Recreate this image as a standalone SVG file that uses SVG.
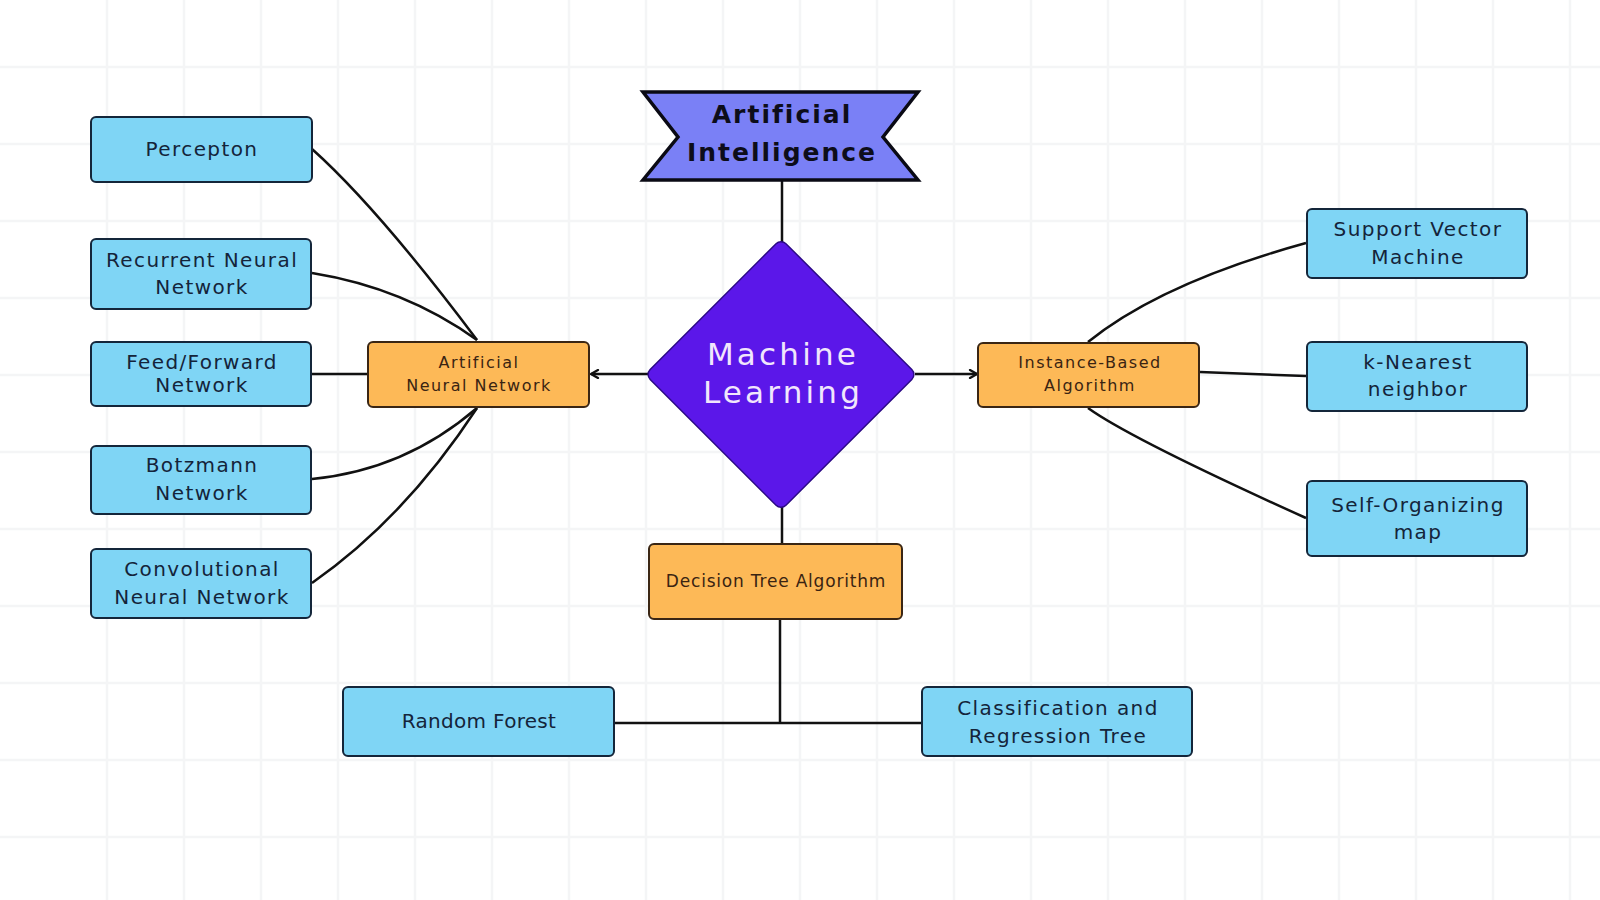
<svg xmlns="http://www.w3.org/2000/svg" width="1600" height="900" viewBox="0 0 1600 900">
  <defs>
    <style>
      .grid line { stroke: #f4f5f6; stroke-width: 2.5; }
      .blue rect { fill: #7fd5f5; stroke: #14263a; stroke-width: 2; }
      .blue text { font-family: "DejaVu Sans", "Liberation Sans", sans-serif; font-size: 20px; letter-spacing: 1.4px; fill: #14243a; text-anchor: middle; }
      .orange rect { fill: #fdb957; stroke: #3a2614; stroke-width: 2; }
      .orange text { font-family: "DejaVu Sans", "Liberation Sans", sans-serif; font-size: 16px; letter-spacing: 1.5px; fill: #3a2412; text-anchor: middle; }
      .conn path, .conn line { fill: none; stroke: #111111; stroke-width: 2.5; }
      .title { font-family: "DejaVu Sans", "Liberation Sans", sans-serif; font-weight: bold; font-size: 25px; letter-spacing: 2px; fill: #0d0d1a; text-anchor: middle; }
      .ml { font-family: "DejaVu Sans", "Liberation Sans", sans-serif; font-size: 31px; letter-spacing: 3.2px; fill: #f1e6fc; text-anchor: middle; }
    </style>
    <marker id="arrow" viewBox="0 0 10 10" refX="9" refY="5" markerWidth="10" markerHeight="10" markerUnits="userSpaceOnUse" orient="auto">
      <path d="M2,1 L9,5 L2,9" fill="none" stroke="#111111" stroke-width="2.3" stroke-linecap="round" stroke-linejoin="round"/>
    </marker>
  </defs>

  <rect x="0" y="0" width="1600" height="900" fill="#ffffff"/>

  <g class="grid">
    <line x1="107" y1="0" x2="107" y2="900"/>
    <line x1="184" y1="0" x2="184" y2="900"/>
    <line x1="261" y1="0" x2="261" y2="900"/>
    <line x1="338" y1="0" x2="338" y2="900"/>
    <line x1="415" y1="0" x2="415" y2="900"/>
    <line x1="492" y1="0" x2="492" y2="900"/>
    <line x1="569" y1="0" x2="569" y2="900"/>
    <line x1="646" y1="0" x2="646" y2="900"/>
    <line x1="723" y1="0" x2="723" y2="900"/>
    <line x1="800" y1="0" x2="800" y2="900"/>
    <line x1="877" y1="0" x2="877" y2="900"/>
    <line x1="954" y1="0" x2="954" y2="900"/>
    <line x1="1031" y1="0" x2="1031" y2="900"/>
    <line x1="1108" y1="0" x2="1108" y2="900"/>
    <line x1="1185" y1="0" x2="1185" y2="900"/>
    <line x1="1262" y1="0" x2="1262" y2="900"/>
    <line x1="1339" y1="0" x2="1339" y2="900"/>
    <line x1="1416" y1="0" x2="1416" y2="900"/>
    <line x1="1493" y1="0" x2="1493" y2="900"/>
    <line x1="1570" y1="0" x2="1570" y2="900"/>
    <line x1="0" y1="67" x2="1600" y2="67"/>
    <line x1="0" y1="144" x2="1600" y2="144"/>
    <line x1="0" y1="221" x2="1600" y2="221"/>
    <line x1="0" y1="298" x2="1600" y2="298"/>
    <line x1="0" y1="375" x2="1600" y2="375"/>
    <line x1="0" y1="452" x2="1600" y2="452"/>
    <line x1="0" y1="529" x2="1600" y2="529"/>
    <line x1="0" y1="606" x2="1600" y2="606"/>
    <line x1="0" y1="683" x2="1600" y2="683"/>
    <line x1="0" y1="760" x2="1600" y2="760"/>
    <line x1="0" y1="837" x2="1600" y2="837"/>
  </g>

  <g id="connectors" class="conn">
    <line x1="782" y1="180" x2="782" y2="242"/>
    <line x1="648" y1="374" x2="591" y2="374" marker-end="url(#arrow)"/>
    <line x1="915" y1="374" x2="977" y2="374" marker-end="url(#arrow)"/>
    <line x1="782" y1="507" x2="782" y2="544"/>
    <line x1="780" y1="619" x2="780" y2="723"/>
    <line x1="614" y1="723" x2="922" y2="723"/>
    <path d="M312,149 Q378,208 477,340"/>
    <path d="M312,273 Q405,288 477,340"/>
    <line x1="311" y1="374" x2="368" y2="374"/>
    <path d="M312,479 Q405,470 477,408"/>
    <path d="M312,583 Q405,518 477,408"/>
    <path d="M1088,342 Q1161,283 1306,243"/>
    <line x1="1200" y1="372" x2="1306" y2="376"/>
    <path d="M1088,408 Q1131,439 1306,518"/>
  </g>

  <g id="artificial-intelligence">
    <polygon points="643,92 918,92 883,137 918,180 643,180 678,137" fill="#7a80f6" stroke="#0a0a14" stroke-width="3.5" stroke-linejoin="miter"/>
    <text class="title" x="782" y="123">Artificial</text>
    <text class="title" x="782" y="161">Intelligence</text>
  </g>

  <g id="machine-learning">
    <rect x="-96" y="-96" width="192" height="192" rx="7" transform="translate(781,374.5) rotate(45)" fill="#5b17e9" stroke="#2c0a86" stroke-width="1.5"/>
    <text class="ml" x="783" y="365">Machine</text>
    <text class="ml" x="783" y="403">Learning</text>
  </g>

  <g id="ann" class="orange">
    <rect x="368" y="342" width="221" height="65" rx="5"/>
    <text x="479" y="367.5">Artificial</text>
    <text x="479" y="390.5">Neural Network</text>
  </g>

  <g id="instance-based" class="orange">
    <rect x="978" y="343" width="221" height="64" rx="5"/>
    <text x="1090" y="367.5">Instance-Based</text>
    <text x="1090" y="391">Algorithm</text>
  </g>

  <g id="decision-tree" class="orange">
    <rect x="649" y="544" width="253" height="75" rx="5"/>
    <text x="776" y="586.5" style="font-size:17px;letter-spacing:0.8px">Decision Tree Algorithm</text>
  </g>

  <g id="percepton" class="blue">
    <rect x="91" y="117" width="221" height="65" rx="5"/>
    <text x="202" y="155.5">Percepton</text>
  </g>

  <g id="rnn" class="blue">
    <rect x="91" y="239" width="220" height="70" rx="5"/>
    <text x="202" y="266.5">Recurrent Neural</text>
    <text x="202" y="294">Network</text>
  </g>

  <g id="feed-forward" class="blue">
    <rect x="91" y="342" width="220" height="64" rx="5"/>
    <text x="202" y="368.5">Feed/Forward</text>
    <text x="202" y="391.5">Network</text>
  </g>

  <g id="botzmann" class="blue">
    <rect x="91" y="446" width="220" height="68" rx="5"/>
    <text x="202" y="471.5">Botzmann</text>
    <text x="202" y="499.5">Network</text>
  </g>

  <g id="cnn" class="blue">
    <rect x="91" y="549" width="220" height="69" rx="5"/>
    <text x="202" y="575.5">Convolutional</text>
    <text x="202" y="603.5">Neural Network</text>
  </g>

  <g id="svm" class="blue">
    <rect x="1307" y="209" width="220" height="69" rx="5"/>
    <text x="1418" y="236">Support Vector</text>
    <text x="1418" y="264">Machine</text>
  </g>

  <g id="knn" class="blue">
    <rect x="1307" y="342" width="220" height="69" rx="5"/>
    <text x="1418" y="368.5">k-Nearest</text>
    <text x="1418" y="396">neighbor</text>
  </g>

  <g id="som" class="blue">
    <rect x="1307" y="481" width="220" height="75" rx="5"/>
    <text x="1418" y="511.5">Self-Organizing</text>
    <text x="1418" y="538.5">map</text>
  </g>

  <g id="random-forest" class="blue">
    <rect x="343" y="687" width="271" height="69" rx="5"/>
    <text x="479" y="727.5" style="letter-spacing:0.3px">Random Forest</text>
  </g>

  <g id="cart" class="blue">
    <rect x="922" y="687" width="270" height="69" rx="5"/>
    <text x="1058" y="715">Classification and</text>
    <text x="1058" y="743">Regression Tree</text>
  </g>
</svg>
